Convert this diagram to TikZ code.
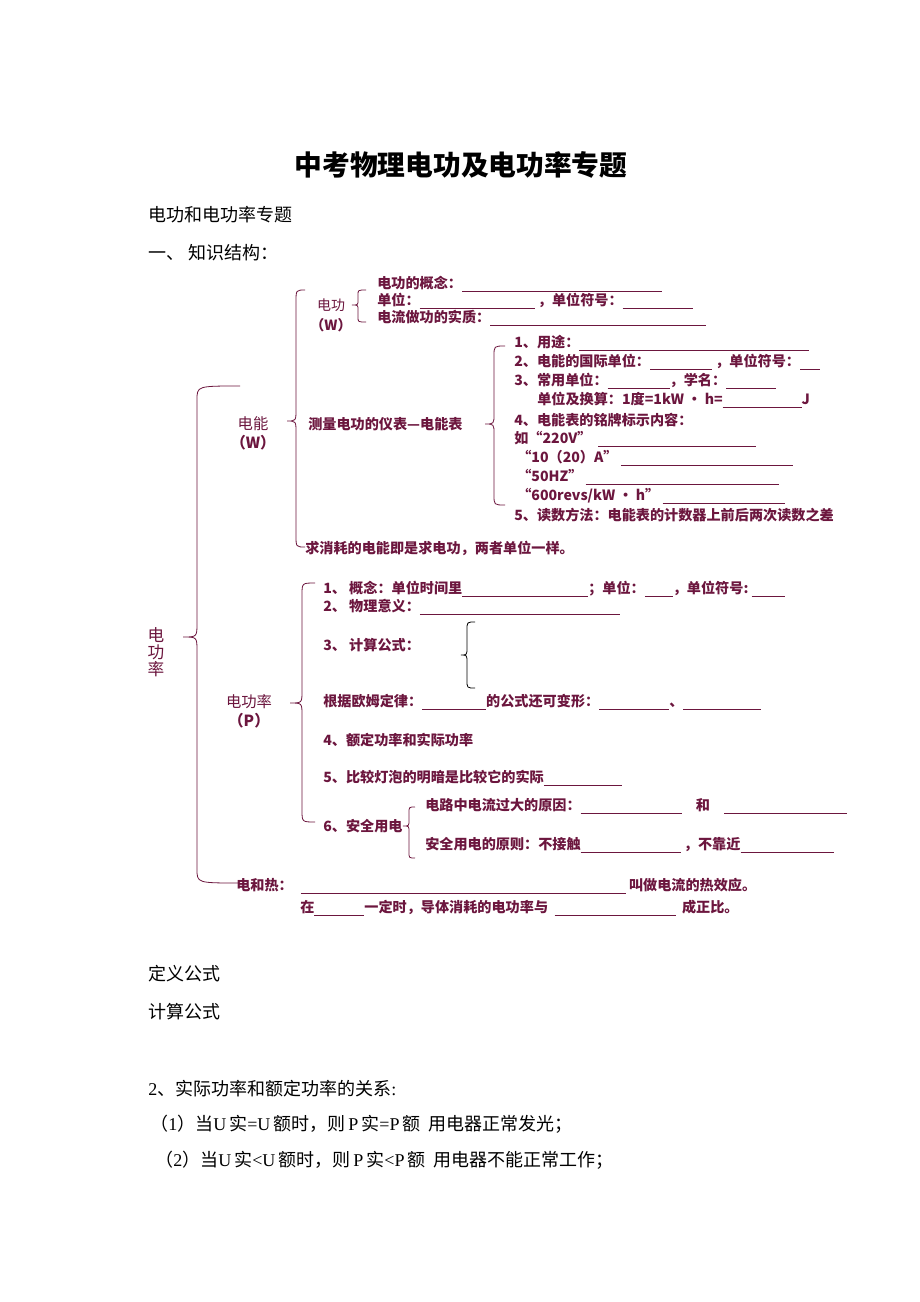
\documentclass[tikz,border=0pt]{standalone}
\usepackage{fontspec}
\newfontfamily\cjk{Noto Sans CJK SC}
\newfontfamily\tnr{Liberation Serif}
\newlength\px
\setlength\px{0.75pt}
\newcommand\bl[1]{\rule[-2.5pt]{#1\px}{0.5pt}}
\newcommand\la[1]{{\tnr #1}}
\definecolor{maroon}{RGB}{108,22,62}
% #1 end x, #2 stem x, #3 tip x, #4 top y, #5 tip y, #6 bottom y, #7 radius
\newcommand\curly[8][maroon]{%
  \draw[brc,draw=#1] (#2,#5) .. controls (#3,#5) .. (#3,#5+#8) -- (#3,#6-#8)
    .. controls (#3,#6) .. (#4,#6) .. controls (#3,#6) .. (#3,#6+#8)
    -- (#3,#7-#8) .. controls (#3,#7) .. (#2,#7);}
\tikzset{
  txt/.style={anchor=west, inner sep=0pt, text=maroon,
    font=\cjk\bfseries\fontsize{10.6}{12}\selectfont},
  lbl/.style={inner sep=0pt, text=maroon, align=center,
    font=\cjk\fontsize{11.5}{14}\selectfont},
  body/.style={anchor=west, inner sep=0pt,
    font=\cjk\fontsize{13.5}{16}\selectfont},
  brc/.style={line width=0.6pt},
}
\begin{document}
\begin{tikzpicture}[x=0.75pt,y=-0.75pt]
  \useasboundingbox[fill=white] (0,0) rectangle (920,1302);

  \node[font=\cjk\bfseries\fontsize{20.8}{24}\selectfont] (title) at (461,165) {中考物理电功及电功率专题};
  \node[body] (sub) at (148,215) {电功和电功率专题};
  \node[body] (sec) at (148,253) {一、\ 知识结构：};

  % root
  \node[lbl, font=\cjk\fontsize{12.5}{12.8}\selectfont] (root) at (156,652) {电\\功\\率};
  \curly{240}{197}{183}{386}{637}{883}{14}

  % 电能
  \node[lbl] (dn) at (253,433) {电能\\{\bfseries（W）}};
  \curly{305}{296}{287}{290}{421}{547}{12}
  \node[lbl, font=\cjk\fontsize{10.5}{15}\selectfont] (dg) at (331,315) {电功\\{\bfseries（W）}};
  \curly{366}{358}{352}{290}{305}{322}{5}
  \node[txt] (gn) at (377,284) {电功的概念：\bl{200}};
  \node[txt] (dw) at (377,301) {单位：\bl{115}\ ，单位符号：\bl{70}};
  \node[txt] (sz) at (377,318) {电流做功的实质：\bl{216}};

  \node[txt] (ybb) at (308,424) {测量电功的仪表—电能表};
  \curly{505}{494}{485}{346}{424}{505}{10}
  \node[txt] (m1) at (514,343) {1、用途：\bl{230}};
  \node[txt] (m2) at (514,362) {2、电能的国际单位：\bl{62}\ ，单位符号：\bl{20}};
  \node[txt] (m3) at (514,381) {3、常用单位：\bl{62}，学名：\bl{50}};
  \node[txt] (m3b) at (537,400) {单位及换算：1度=1kW • h=\bl{79}J};
  \node[txt] (m4) at (514,420) {4、电能表的铭牌标示内容：};
  \node[txt] (m4a) at (514,439) {如“220V”\ \ \bl{158}};
  \node[txt] (m4b) at (517,458) {“10（20）A”\ \bl{172}};
  \node[txt] (m4c) at (517,477) {“50HZ”\ \bl{193}};
  \node[txt] (m4d) at (517,496) {“600revs/kW • h”\ \bl{122}};
  \node[txt] (m5) at (514,515) {5、读数方法：电能表的计数器上前后两次读数之差};
  \node[txt] (qx) at (305,548) {求消耗的电能即是求电功，两者单位一样。};

  % 电功率
  \node[lbl] (gl) at (249,711) {电功率\\{\bfseries（P）}};
  \curly{315}{302}{290}{583}{703}{822}{12}
  \node[txt] (p1) at (323,589) {1、\ 概念：单位时间里\bl{126}；单位：\bl{28}，单位符号:\ \bl{33}};
  \node[txt] (p2) at (323,607) {2、\ 物理意义：\bl{200}};
  \node[txt] (p3) at (323,645) {3、\ 计算公式：};
  \curly[black]{475}{467}{461}{622}{655}{688}{8}
  \node[txt] (om) at (323,702) {根据欧姆定律：\bl{64}的公式还可变形：\bl{70}、\bl{78}};
  \node[txt] (p4) at (323,740) {4、额定功率和实际功率};
  \node[txt] (p5) at (323,778) {5、比较灯泡的明暗是比较它的实际\bl{78}};
  \node[txt] (p6) at (323,826) {6、安全用电};
  \curly{415}{409}{403}{807}{826}{858}{6}
  \node[txt] (s1) at (425,806) {电路中电流过大的原因：\bl{101}\quad 和\quad\bl{123}};
  \node[txt] (s2) at (425,845) {安全用电的原则：不接触\bl{100}\ ，不靠近\bl{93}};

  % 电和热
  \node[txt] (dr) at (236,886) {电和热：\hspace{6pt}\bl{325}\ 叫做电流的热效应。};
  \node[txt] (dr2) at (300,908) {在\bl{50}一定时，导体消耗的电功率与\ \ \bl{121}\ \ 成正比。};

  \node[body] (dy) at (148,974) {定义公式};
  \node[body] (js) at (148,1012) {计算公式};
  \node[body] (gx) at (148,1089) {\la{2}、实际功率和额定功率的关系\la{:}};
  \node[body] (g1) at (150,1124) {（\la{1}）当\la{U}\,实\la{=U}\,额时，则\,\la{P}\,实\la{=P}\,额\ \ 用电器正常发光；};
  \node[body] (g2) at (155,1160) {（\la{2}）当\la{U}\,实\la{<U}\,额时，则\,\la{P}\,实\la{<P}\,额\ \ 用电器不能正常工作；};
\end{tikzpicture}
\end{document}
